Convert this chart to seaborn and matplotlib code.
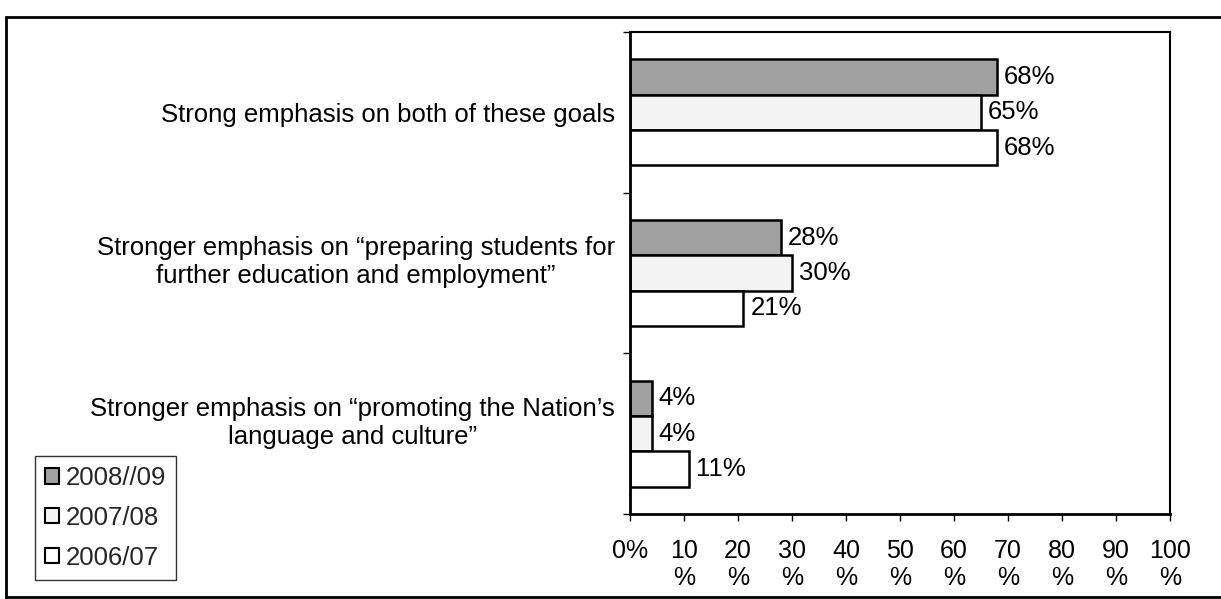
import matplotlib
matplotlib.use("Agg")
import matplotlib.pyplot as plt
from matplotlib.lines import Line2D
from matplotlib.ticker import FixedLocator
from matplotlib.transforms import ScaledTranslation
import seaborn as sns
import pandas as pd

# --- data -------------------------------------------------------------
categories = [
    "Strong emphasis on both of these goals",
    "Stronger emphasis on \u201cpreparing students for\nfurther education and employment\u201d",
    "Stronger emphasis on \u201cpromoting the Nation\u2019s\nlanguage and culture\u201d",
]
years = ["2008//09", "2007/08", "2006/07"]
values_2008_09 = [68, 28, 4]
values_2007_08 = [65, 30, 4]
values_2006_07 = [68, 21, 11]
x_ticks = [0, 10, 20, 30, 40, 50, 60, 70, 80, 90, 100]
x_tick_labels = ["0%", "10\n%", "20\n%", "30\n%", "40\n%", "50\n%",
                 "60\n%", "70\n%", "80\n%", "90\n%", "100\n%"]

df = pd.DataFrame({
    "category": categories * 3,
    "year": [years[0]] * 3 + [years[1]] * 3 + [years[2]] * 3,
    "pct": values_2008_09 + values_2007_08 + values_2006_07,
})

# --- style ------------------------------------------------------------
sns.set_theme(style="white")
plt.rcParams["font.family"] = ["Liberation Sans", "DejaVu Sans"]
FS = 18.5
FS_TICK = 18

W, H = 1221, 599
fig = plt.figure(figsize=(W / 100, H / 100), dpi=100)
fig.patch.set_facecolor("white")

left, right, top, bottom = 630, 1170, 32, 514
ax = fig.add_axes([left / W, 1 - bottom / H, (right - left) / W, (bottom - top) / H])

palette = {years[0]: "#a0a0a0", years[1]: "#f4f4f4", years[2]: "#ffffff"}
sns.barplot(
    data=df, y="category", x="pct", hue="year", order=categories,
    hue_order=years, palette=palette, orient="h", width=0.66,
    edgecolor="black", linewidth=1.8, saturation=1, ax=ax, legend=True,
)

for container in ax.containers:
    ax.bar_label(container, fmt="%d%%", padding=5, fontsize=FS, color="black")

# axes
ax.set_xlim(0, 100)
ax.set_ylim(2.5, -0.5)
ax.set_xlabel("")
ax.set_ylabel("")
ax.xaxis.set_major_locator(FixedLocator(x_ticks))
ax.set_xticklabels(x_tick_labels, fontsize=FS_TICK, color="black", linespacing=1.15)
ax.tick_params(axis="x", which="major", direction="out", length=5, width=1,
               color="black", pad=13, bottom=True)
ax.tick_params(axis="y", which="major", length=0, pad=11, labelsize=FS,
               labelcolor="black", left=False)
for lbl in ax.get_yticklabels():
    lbl.set_multialignment("center")
    lbl.set_linespacing(1.2)
ax.yaxis.set_minor_locator(FixedLocator([-0.5, 0.5, 1.5, 2.5]))
ax.tick_params(axis="y", which="minor", direction="out", length=5, width=1,
               color="black", left=True)

for side in ["left", "bottom"]:
    ax.spines[side].set_color("black")
    ax.spines[side].set_linewidth(2)
for side in ["top", "right"]:
    ax.spines[side].set_color("black")
    ax.spines[side].set_linewidth(1.5)
    ax.spines[side].set_visible(True)

# legend
leg = ax.legend(
    loc="lower left", bbox_to_anchor=(35 / W, 1 - 580 / H),
    bbox_transform=fig.transFigure, frameon=True, fancybox=False,
    fontsize=FS, handlelength=0.55, handleheight=0.55, handletextpad=0.25,
    labelspacing=0.62, borderpad=0.4, borderaxespad=0,
)
leg.get_frame().set_edgecolor("black")
leg.get_frame().set_linewidth(1)
for h in leg.legend_handles:
    h.set_edgecolor("black")
    h.set_linewidth(1.5)

# outer border of the chart area
line_kw = dict(color="black", linewidth=2, transform=fig.transFigure)
fig.add_artist(Line2D([6 / W, 6 / W], [1 - 17 / H, 0], **line_kw))
fig.add_artist(Line2D([6 / W, 1], [1 - 17 / H, 1 - 17 / H], **line_kw))
fig.add_artist(Line2D([6 / W, 1], [1 - 597 / H, 1 - 597 / H], **line_kw))

# two-line category labels sit with their last line on the category centre
fig.canvas.draw()
for lbl in ax.get_yticklabels():
    if "\n" in lbl.get_text():
        lbl.set_transform(lbl.get_transform()
                          + ScaledTranslation(0, 0.15, fig.dpi_scale_trans))

fig.savefig("out.png", dpi=100)
